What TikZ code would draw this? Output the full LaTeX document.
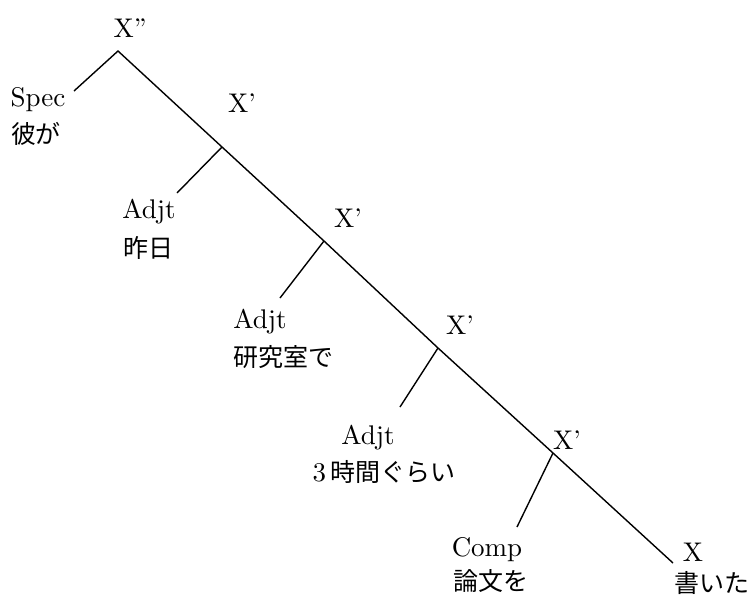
\documentclass[tikz,border=0pt]{standalone}
\usepackage{fontspec}
\setmainfont{lmroman10-regular}[Extension=.otf]
\newfontfamily\cjk{Noto Sans CJK JP}
\begin{document}
\begin{tikzpicture}[x=1pt,y=-1pt,
  lbl/.style={inner sep=0pt,font=\fontsize{27}{30}\selectfont},
  jp/.style={inner sep=0pt,font=\fontsize{25}{28}\selectfont\cjk},
  edge/.style={line width=1.4pt}]
\useasboundingbox (0,0) rectangle (753,597);
% branch points
\coordinate (top) at (118,51);
\coordinate (b1) at (222,147);
\coordinate (b2) at (324,241);
\coordinate (b3) at (438,348);
\coordinate (b4) at (553,453);
\coordinate (bend) at (673,563);
\coordinate (sp) at (74,91);
\coordinate (a1) at (177,193);
\coordinate (a2) at (280,298);
\coordinate (a3) at (400,407);
\coordinate (a4) at (517,527);
% labels
\node[lbl] (xpp) at (130,28) {X''};
\node[lbl] (spec) at (38,100) {Spec};
\node[jp] (kare) at (36,134) {彼が};
\node[lbl] (x1) at (242,103) {X'};
\node[lbl] (adj1) at (149,212) {Adjt};
\node[jp] (kinou) at (148,248) {昨日};
\node[lbl] (x2) at (348,218) {X'};
\node[lbl] (adj2) at (260,322) {Adjt};
\node[jp] (ken) at (283,357) {研究室で};
\node[lbl] (x3) at (460,325) {X'};
\node[lbl] (adj3) at (368,438) {Adjt};
\node[lbl] (jikan) at (384,472) {3\,{\fontsize{25}{28}\selectfont\cjk 時間ぐらい}};
\node[lbl] (x4) at (567,440) {X'};
\node[lbl] (comp) at (487,550) {Comp};
\node[jp] (ron) at (491,581) {論文を};
\node[lbl] (x0) at (693,552) {X};
\node[jp] (kaita) at (712,583) {書いた};
% edges
\draw[edge] (sp) -- (top) -- (b1) -- (b2) -- (b3) -- (b4) -- (bend);
\draw[edge] (b1) -- (a1);
\draw[edge] (b2) -- (a2);
\draw[edge] (b3) -- (a3);
\draw[edge] (b4) -- (a4);
\end{tikzpicture}
\end{document}
